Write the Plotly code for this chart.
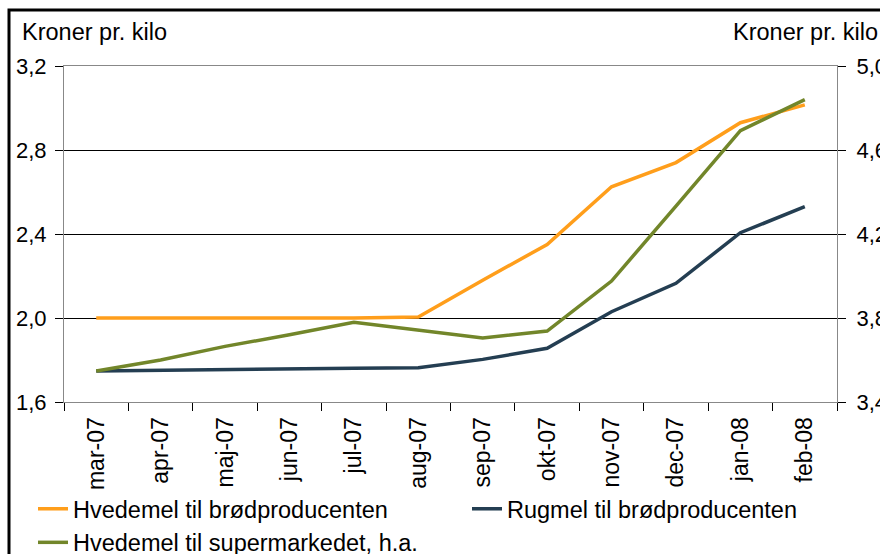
import plotly.graph_objects as go

# Monthly flour prices, kroner per kilo
months = ["mar-07", "apr-07", "maj-07", "jun-07", "jul-07", "aug-07",
          "sep-07", "okt-07", "nov-07", "dec-07", "jan-08", "feb-08"]
hvede_brod = [2.00, 2.00, 2.00, 2.00, 2.00, 2.005, 2.18, 2.35, 2.625, 2.74, 2.93, 3.015]
rug_brod = [1.748, 1.752, 1.755, 1.758, 1.761, 1.763, 1.803, 1.856, 2.03, 2.165, 2.406, 2.53]
hvede_super = [3.548, 3.60, 3.665, 3.72, 3.78, 3.743, 3.705, 3.738, 3.976, 4.333, 4.692, 4.84]

left_ticks = [1.6, 2.0, 2.4, 2.8, 3.2]
right_ticks = [3.4, 3.8, 4.2, 4.6, 5.0]

ORANGE = "#FF9E1B"
NAVY = "#243E52"
OLIVE = "#72862A"
FONT = "Liberation Sans, Arial, sans-serif"

W, H = 880, 554
L, R, T, B = 64, 43, 66, 152
pw, ph = W - L - R, H - T - B


def px_x(x):
    return (x - L) / pw


def px_y(y):
    return (H - B - y) / ph


fig = go.Figure()
fig.add_trace(go.Scatter(x=months, y=hvede_brod, mode="lines",
                         name="Hvedemel til brødproducenten",
                         line=dict(color=ORANGE, width=3.5), legend="legend"))
fig.add_trace(go.Scatter(x=months, y=rug_brod, mode="lines",
                         name="Rugmel til brødproducenten",
                         line=dict(color=NAVY, width=3.5), legend="legend2"))
fig.add_trace(go.Scatter(x=months, y=hvede_super, mode="lines",
                         name="Hvedemel til supermarkedet, h.a.",
                         line=dict(color=OLIVE, width=3.5), yaxis="y2",
                         legend="legend"))

ytick_font = dict(family=FONT, size=22, color="black")
xtick_font = dict(family=FONT, size=23, color="black")
text_size = 23.5

fig.update_layout(
    width=W, height=H,
    margin=dict(l=L, r=R, t=T, b=B, pad=0, autoexpand=False),
    paper_bgcolor="white", plot_bgcolor="white",
    separators=",.",
    font=dict(family=FONT, size=text_size, color="black"),
    showlegend=True,
    xaxis=dict(
        type="category", tickson="boundaries", ticks="outside", ticklen=8,
        tickcolor="black", tickwidth=1, tickangle=-90, tickfont=xtick_font,
        showline=True, linecolor="#888888", linewidth=1, mirror=True,
        showgrid=False, range=[-0.5, 11.5], automargin=False,
        ticklabelstandoff=5,
    ),
    yaxis=dict(
        range=[1.6, 3.2], tickvals=left_ticks, tickformat=".1f",
        ticks="outside", ticklen=8, tickcolor="black", tickfont=ytick_font,
        showline=True, linecolor="#888888", linewidth=1, mirror=True,
        showgrid=True, gridcolor="black", gridwidth=1, zeroline=False,
        ticklabelstandoff=4, automargin=False,
    ),
    yaxis2=dict(
        range=[3.4, 5.0], tickvals=right_ticks, tickformat=".1f",
        overlaying="y", side="right",
        ticks="outside", ticklen=8, tickcolor="black", tickfont=ytick_font,
        showline=True, linecolor="#888888", linewidth=1,
        showgrid=False, zeroline=False, ticklabelstandoff=6, automargin=False,
    ),
    legend=dict(
        orientation="v", x=px_x(33), y=px_y(487), xanchor="left", yanchor="top",
        font=dict(family=FONT, size=text_size), bgcolor="rgba(0,0,0,0)",
        borderwidth=0, tracegroupgap=0,
    ),
    legend2=dict(
        orientation="v", x=px_x(467), y=px_y(487), xanchor="left", yanchor="top",
        font=dict(family=FONT, size=text_size), bgcolor="rgba(0,0,0,0)",
        borderwidth=0,
    ),
    annotations=[
        dict(text="Kroner pr. kilo", xref="paper", yref="paper",
             x=px_x(20), y=px_y(32), xanchor="left", yanchor="middle",
             showarrow=False, font=dict(family=FONT, size=text_size)),
        dict(text="Kroner pr. kilo", xref="paper", yref="paper",
             x=px_x(731), y=px_y(32), xanchor="left", yanchor="middle",
             showarrow=False, font=dict(family=FONT, size=text_size)),
    ],
    shapes=[
        dict(type="rect", xref="paper", yref="paper",
             x0=px_x(9), x1=px_x(900), y0=px_y(600), y1=px_y(10),
             line=dict(color="black", width=3), fillcolor="rgba(0,0,0,0)",
             layer="below"),
    ],
)

fig.write_html("out.html")
